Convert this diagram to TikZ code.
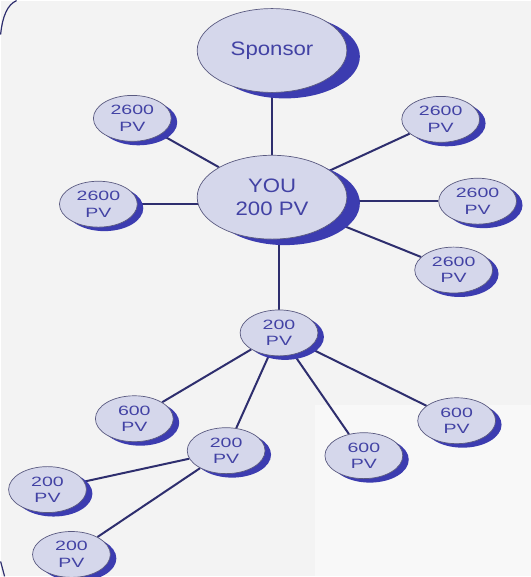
\documentclass[tikz,border=0pt]{standalone}
\usepackage{fontspec}
\setmainfont{Liberation Sans}
\newfontfamily\smallfnt[FakeStretch=1.45]{Liberation Sans}
\newfontfamily\bigfnt[FakeStretch=1.14]{Liberation Sans}
\usetikzlibrary{shapes.geometric,shadows}
\definecolor{bubfill}{HTML}{D5D7EB}
\definecolor{bubline}{HTML}{5A5A80}
\definecolor{shadowblue}{HTML}{3C3CB0}
\definecolor{txtblue}{HTML}{4242A4}
\definecolor{edgecol}{HTML}{2E2E6E}
\definecolor{bgmain}{HTML}{F3F3F3}
\definecolor{bglight}{HTML}{F8F8F8}
\pgfdeclarelayer{bglayer}
\pgfdeclarelayer{edgelayer}
\pgfsetlayers{bglayer,edgelayer,main}
\tikzset{
  bubble/.style={ellipse, draw=bubline, line width=0.7pt, fill=bubfill,
    inner sep=0pt, text=txtblue, align=center},
  smallbub/.style={bubble, minimum width=78pt, minimum height=46pt,
    font=\smallfnt\fontsize{13.5}{16.5}\selectfont,
    drop shadow={shadow xshift=6pt, shadow yshift=-4pt, fill=shadowblue, opacity=1, draw=none}},
  bigbub/.style={bubble, minimum width=150pt, minimum height=84pt,
    font=\bigfnt\fontsize{19.5}{23}\selectfont,
    drop shadow={shadow xshift=13pt, shadow yshift=-6pt, fill=shadowblue, opacity=1, draw=none}},
  link/.style={draw=edgecol, line width=2pt},
  framearc/.style={draw=edgecol, line width=1.2pt}
}
\begin{document}
\begin{tikzpicture}[x=1pt,y=-1pt]
\begin{pgfonlayer}{bglayer}
  \fill[bgmain] (0,0) rectangle (531,577);
  \fill[bglight] (315,405) rectangle (531,577);
  \draw[framearc] (0,34) .. controls (2,15) and (7,4) .. (16,0);
  \draw[framearc] (0,562) -- (4,577);
\end{pgfonlayer}
\useasboundingbox (0,0) rectangle (531,577);

\node[bigbub] (sp) at (272,50) {Sponsor};
\node[bigbub] (you) at (272,197) {YOU\\200 PV};

\node[smallbub] (a1) at (132,118) {2600\\PV};
\node[smallbub] (a2) at (98,204) {2600\\PV};
\node[smallbub] (a3) at (441,119) {2600\\PV};
\node[smallbub] (a4) at (478,201) {2600\\PV};
\node[smallbub] (a5) at (454,270) {2600\\PV};

\node[smallbub] (m) at (279,333) {200\\PV};
\node[smallbub] (b1) at (134,419) {600\\PV};
\node[smallbub] (b2) at (226,451) {200\\PV};
\node[smallbub] (b3) at (364,456) {600\\PV};
\node[smallbub] (b4) at (457,421) {600\\PV};
\node[smallbub] (c1) at (47,490) {200\\PV};
\node[smallbub] (c2) at (71,555) {200\\PV};

\begin{pgfonlayer}{edgelayer}
  \draw[link] (sp) -- (you);
  \draw[link] (you) -- (a1);
  \draw[link] (a2) -- (a2 -| you);
  \draw[link] (you) -- (a3);
  \draw[link] (a4) -- (a4 -| you);
  \draw[link] (you) -- (a5);
  \draw[link] (m) -- (m |- you);
  \draw[link] (m) -- (b1);
  \draw[link] (m) -- (b2);
  \draw[link] (m) -- (b3);
  \draw[link] (m) -- (b4);
  \draw[link] (b2) -- (c1);
  \draw[link] (b2) -- (c2);
\end{pgfonlayer}
\end{tikzpicture}
\end{document}
